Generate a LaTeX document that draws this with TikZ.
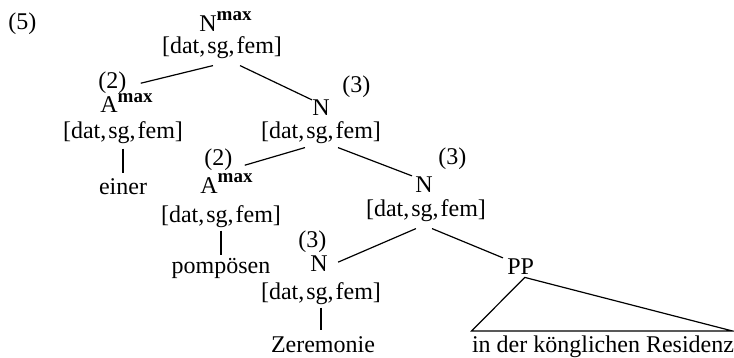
\documentclass[tikz,border=0pt]{standalone}
\usepackage{fontspec}
\setmainfont{Liberation Serif}
\usepackage{tikz}
\usetikzlibrary{calc}
\newcommand{\maxsup}{\raisebox{5.5pt}{\fontsize{9.5}{10}\selectfont\bfseries max}}
\newcommand{\feats}{[dat,\kern1pt sg,\kern1pt fem]}
\tikzset{
  cat/.style={anchor=base west, inner sep=0pt},
  feat/.style={anchor=base, inner sep=0pt},
  word/.style={anchor=base, inner sep=0pt},
  idx/.style={anchor=base west, inner sep=0pt},
  branch/.style={line width=0.6pt}
}

\begin{document}
\begin{tikzpicture}[x=0.5pt, y=-0.5pt, font=\fontsize{12}{14}\selectfont]
        \useasboundingbox (0,0) rectangle (734,358);
        \node[idx] (ex) at (8,30) {(5)};
        % root
        \node[cat]  (n0) at (199,32) {N\maxsup};
        \node[feat] (f0) at (222,54) {\feats};
        % left: einer
        \node[idx]  (i1) at (98,89) {(2)};
        \node[cat]  (a1) at (100,113) {A\maxsup};
        \node[feat] (f1) at (123,139) {\feats};
        \node[word] (w1) at (123,195) {einer};
        % right N
        \node[idx]  (i2) at (342,93) {(3)};
        \node[cat]  (n1) at (312,116) {N};
        \node[feat] (f2) at (321,139) {\feats};
        % pompoesen
        \node[idx]  (i3) at (204,166) {(2)};
        \node[cat]  (a2) at (200,193) {A\maxsup};
        \node[feat] (f3) at (221,222) {\feats};
        \node[word] (w2) at (221,273) {pompösen};
        % lower N
        \node[idx]  (i4) at (438,165) {(3)};
        \node[cat]  (n2) at (415,192) {N};
        \node[feat] (f4) at (426,216) {\feats};
        % Zeremonie
        \node[idx]  (i5) at (298,247) {(3)};
        \node[cat]  (n3) at (310,271) {N};
        \node[feat] (f5) at (321,299) {\feats};
        \node[word] (w3) at (323,352) {Zeremonie};
        % PP
        \node[cat]  (pp) at (507,274) {PP};
        \node[word] (w4) at (603,352) {in der könglichen Residenz};

        \draw[branch] ($(f0.south)+(-9,6)$) -- ($(i1.east)+(14,0)$);
        \draw[branch] ($(f0.south)+(18,6)$) -- (n1.north west);
        \draw[branch] ($(f2.south)+(-16,3)$) -- ($(i3.east)+(12,5)$);
        \draw[branch] ($(f2.south)+(17,3)$) -- ($(n2.north west)+(-3,0)$);
        \draw[branch] ($(f4.south)+(-10,7)$) -- ($(n3.east)+(10,-1)$);
        \draw[branch] ($(f4.south)+(6,7)$) -- ($(pp.north west)+(-4,0)$);
        \draw[branch] ($(f1.south)+(0,4)$) -- ($(w1.north -| f1.south)+(0,-6)$);
        \draw[branch] ($(f3.south)+(0,3)$) -- ($(w2.north -| f3.south)+(0,-2)$);
        \draw[branch] ($(f5.south)+(0,3)$) -- ($(w3.north -| f5.south)+(0,-6)$);
        \draw[branch] ($(pp.south)+(4,3)$) -- ($(w4.north west)+(0,-4)$)
          -- ($(w4.north east)+(-2,-4)$) -- cycle;
      \end{tikzpicture}
\end{document}
